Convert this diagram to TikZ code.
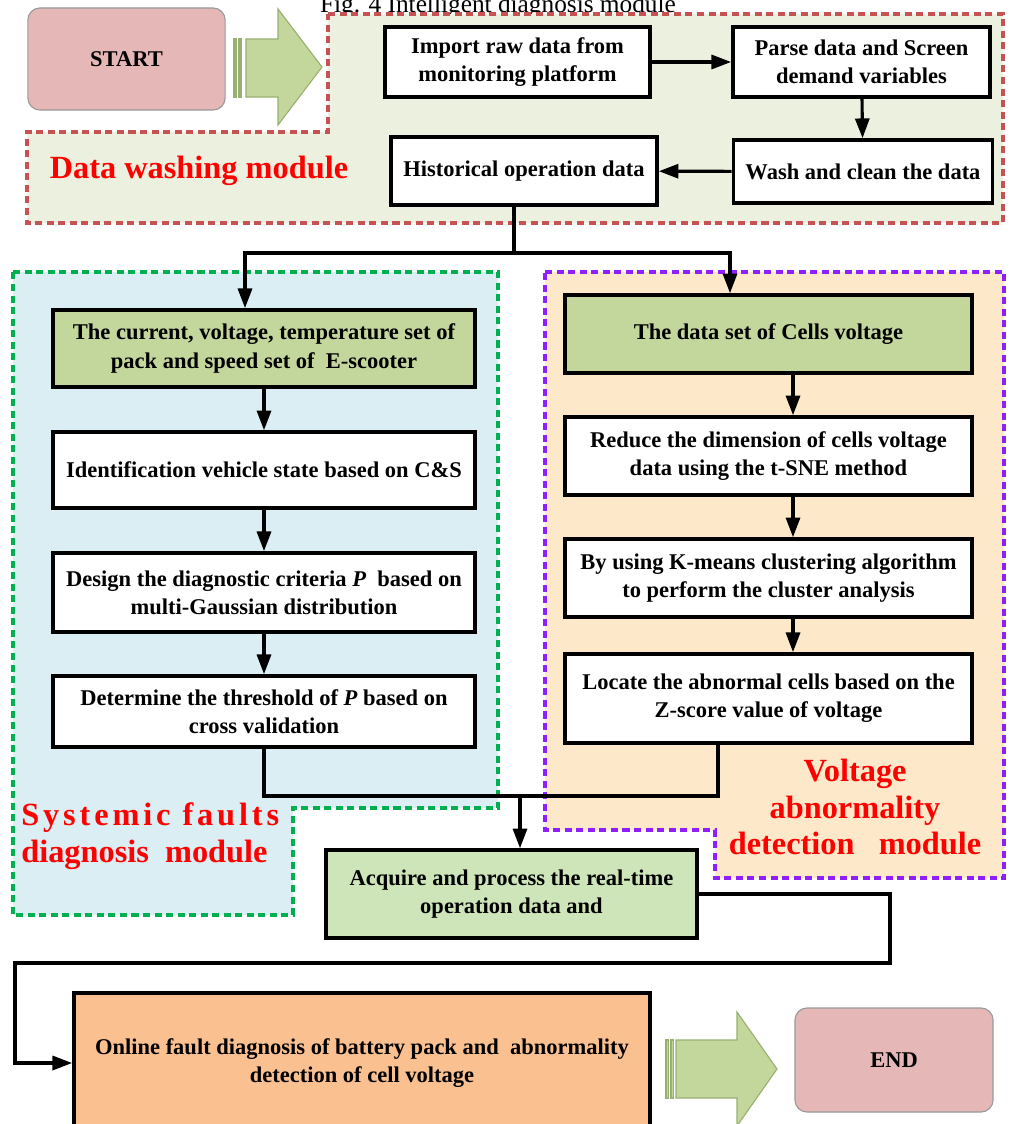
\documentclass[tikz,border=0pt]{standalone}
\usepackage{fontspec}
\setmainfont{Liberation Serif}
\usepackage{tikz}
\usetikzlibrary{arrows.meta,positioning,calc}
\usepackage{xcolor}

\definecolor{washfill}{HTML}{EBF1DE}
\definecolor{washline}{HTML}{C65254}
\definecolor{sysfill}{HTML}{DAEEF3}
\definecolor{sysline}{HTML}{00B050}
\definecolor{voltfill}{HTML}{FDE9C9}
\definecolor{voltline}{HTML}{8F1FFF}
\definecolor{setgreen}{HTML}{C3D69B}
\definecolor{acqgreen}{HTML}{CDE5B8}
\definecolor{onlinefill}{HTML}{FAC090}
\definecolor{termfill}{HTML}{E5B8B7}
\definecolor{termline}{HTML}{999999}
\definecolor{arrowfill}{HTML}{C3D69B}
\definecolor{arrowline}{HTML}{98B070}
\definecolor{labelred}{HTML}{FF0000}

\begin{document}
\begin{tikzpicture}[x=0.025cm, y=-0.025cm,
    box/.style={draw=black, line width=2.5pt, fill=white, align=center, inner sep=2pt,
        font=\bfseries\fontsize{16}{20}\selectfont},
    greenbox/.style={box, fill=setgreen},
    terminal/.style={draw=termline, line width=0.8pt, fill=termfill, rounded corners=0.3cm,
        font=\bfseries\fontsize{16}{20}\selectfont},
    arr/.style={-{Triangle[length=14pt,width=10pt]}, line width=2.2pt},
    link/.style={line width=2.2pt},
    module/.style={line width=2.7pt, dash pattern=on 5pt off 3.2pt},
    blockarrow/.style={draw=arrowline, line width=0.8pt, fill=arrowfill},
    modlabel/.style={text=labelred, inner sep=0pt,
        font=\bfseries\fontsize{23}{26}\selectfont}
]
    \useasboundingbox (0,0) rectangle (1009,1124);

    % 标题
    \node[anchor=base, font=\fontsize{18}{20}\selectfont] (title) at (498,13)
        {Fig. 4 Intelligent diagnosis module};

    % 模块区域
    \draw[module, draw=washline, fill=washfill]
        (328,14) -- (1003,14) -- (1003,223) -- (27,223) -- (27,132) -- (328,132) -- cycle;
    \draw[module, draw=sysline, fill=sysfill]
        (13,272) -- (498,272) -- (498,808) -- (293,808) -- (293,915) -- (13,915) -- cycle;
    \draw[module, draw=voltline, fill=voltfill]
        (545,272) -- (1004,272) -- (1004,878) -- (715,878) -- (715,830) -- (545,830) -- cycle;

    % 模块名称
    \node[modlabel, anchor=base] (washlbl) at (199,178) {Data washing module};
    \node[modlabel, anchor=west, align=left] (syslbl) at (21,836)
        {{\addfontfeature{LetterSpace=12}Systemic faults}\\diagnosis \ module};
    \node[modlabel, align=center] (voltlbl) at (855,807)
        {Voltage\\abnormality\\detection \ \ module};

    % 开始与结束
    \node[terminal, minimum width=4.93cm, minimum height=2.55cm] (start) at (126.5,59) {START};
    \node[terminal, minimum width=4.95cm, minimum height=2.6cm] (end) at (894,1060) {END};

    % 块状箭头
    \draw[blockarrow] (246,39) -- (278,39) -- (278,9) -- (322,67) -- (278,125) -- (278,97) -- (246,97) -- cycle;
    \draw[blockarrow] (234,39) rectangle (236,97);
    \draw[blockarrow] (239,39) rectangle (241,97);
    \draw[blockarrow] (676,1040) -- (737,1040) -- (737,1012) -- (777,1069) -- (737,1126) -- (737,1098) -- (676,1098) -- cycle;
    \draw[blockarrow] (666,1040) rectangle (668.5,1098);
    \draw[blockarrow] (671,1040) rectangle (673.5,1098);

    % 数据清洗
    \node[box, minimum width=6.63cm, minimum height=1.75cm] (import) at (517.5,62)
        {Import raw data from\\monitoring platform};
    \node[box, minimum width=6.43cm, minimum height=1.75cm] (parse) at (861.5,62)
        {Parse data and Screen\\demand variables};
    \node[box, minimum width=6.48cm, minimum height=1.58cm] (wash) at (863,171.5)
        {Wash and clean the data};
    \node[box, minimum width=6.65cm, minimum height=1.7cm] (hist) at (524,171)
        {Historical operation data};

    % 系统故障诊断
    \node[greenbox, minimum width=10.55cm, minimum height=1.93cm] (cur) at (264,348.5)
        {The current, voltage, temperature set of\\pack and speed set of \ E-scooter};
    \node[box, minimum width=10.55cm, minimum height=1.9cm] (ident) at (264,470)
        {Identification vehicle state based on C\&S};
    \node[box, minimum width=10.55cm, minimum height=1.98cm] (design) at (264,592.5)
        {Design the diagnostic criteria \textit{P} \ based on\\multi-Gaussian distribution};
    \node[box, minimum width=10.55cm, minimum height=1.78cm] (thresh) at (264,711.5)
        {Determine the threshold of \textit{P} based on\\cross validation};

    % 电压异常检测
    \node[greenbox, minimum width=10.18cm, minimum height=1.95cm] (cells) at (768.5,334)
        {The data set of Cells voltage};
    \node[box, minimum width=10.18cm, minimum height=1.95cm] (reduce) at (768.5,456)
        {Reduce the dimension of cells voltage\\data using the t-SNE method};
    \node[box, minimum width=10.18cm, minimum height=1.95cm] (kmeans) at (768.5,578)
        {By using K-means clustering algorithm\\to perform the cluster analysis};
    \node[box, minimum width=10.18cm, minimum height=2.23cm] (locate) at (768.5,698.5)
        {Locate the abnormal cells based on the\\Z-score value of voltage};

    % 在线诊断
    \node[box, fill=acqgreen, minimum width=9.28cm, minimum height=2.2cm] (acq) at (511.5,894)
        {Acquire and process the real-time\\operation data and};
    \node[box, fill=onlinefill, minimum width=14.4cm, minimum height=3.5cm] (online) at (362,1063)
        {Online fault diagnosis of battery pack and \ abnormality\\detection of cell voltage};

    % 辅助坐标
    \coordinate (sp) at (514,253);
    \coordinate (spl) at (245,253);
    \coordinate (spr) at (730,253);
    \coordinate (rcol) at (793,0);
    \coordinate (mj) at (520,796);
    \coordinate (lb) at (718,796);
    \coordinate (lr) at (890,963);
    \coordinate (ll) at (15,963);

    % 连线
    \draw[arr] (import) -- (parse);
    \draw[arr] (parse) -- (wash);
    \draw[arr] (wash) -- (hist);
    \draw[arr] (hist.south -| sp) |- (spl) -- (cur.north -| spl);
    \draw[arr] (sp) -| (cells.north -| spr);

    \draw[arr] (cur) -- (ident);
    \draw[arr] (ident) -- (design);
    \draw[arr] (design) -- (thresh);

    \draw[arr] (cells.south -| rcol) -- (reduce.north -| rcol);
    \draw[arr] (reduce.south -| rcol) -- (kmeans.north -| rcol);
    \draw[arr] (kmeans.south -| rcol) -- (locate.north -| rcol);

    \draw[link] (thresh.south) |- (mj);
    \draw[link] (locate.south -| lb) -- (lb) -- (mj);
    \draw[arr] (mj) -- (acq.north -| mj);
    \draw[arr] (acq.east) -| (lr) -- (ll) |- (online.west);
\end{tikzpicture}
\end{document}
